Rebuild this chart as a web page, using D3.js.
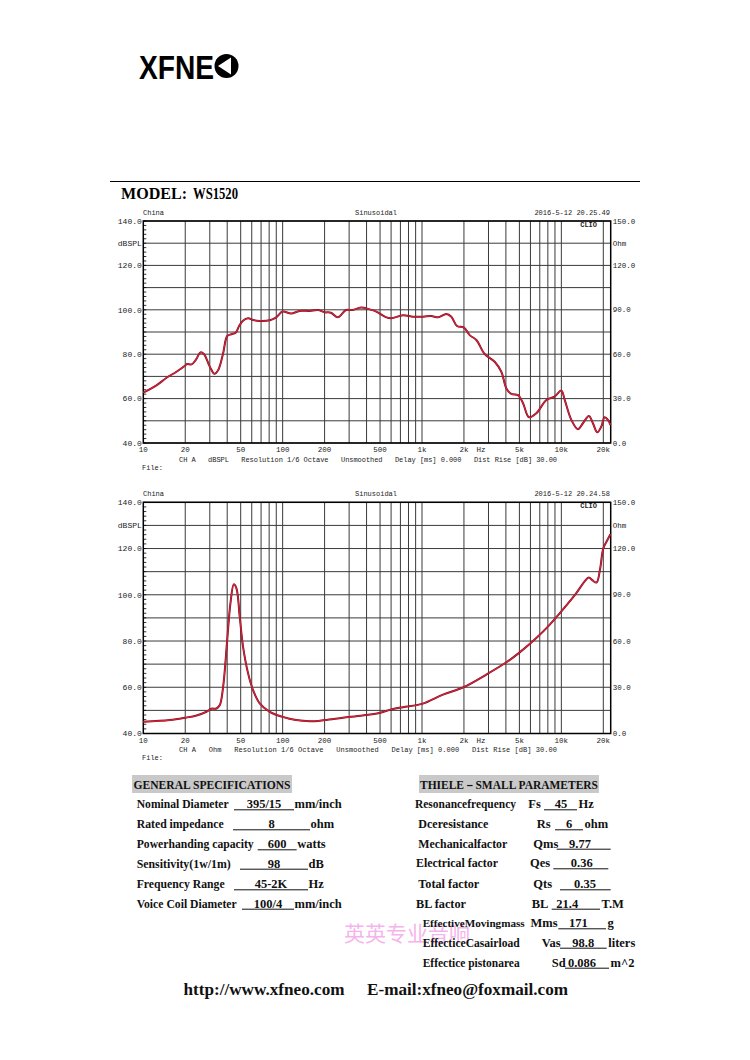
<!DOCTYPE html>
<html lang="en">
<head>
<meta charset="UTF-8">
<title>WS1520</title>
<script src="https://d3js.org/d3.v7.min.js"></script>
<style>
  html, body { margin: 0; padding: 0; background: #fff; }
  svg { display: block; }
</style>
</head>
<body>
<svg></svg>
<script>
// ---- data ----
const model = "WS1520";

const freqTicks = [10, 20, 50, 100, 200, 500, 1000, 2000, 5000, 10000, 20000];
const freqTickLabels = ["10", "20", "50", "100", "200", "500", "1k", "2k", "5k", "10k", "20k"];
const leftLabels = ["140.0", "dBSPL", "120.0", "", "100.0", "", "80.0", "", "60.0", "", "40.0"];
const rightLabels = ["150.0", "Ohm", "120.0", "", "90.0", "", "60.0", "", "30.0", "", "0.0"];

// SPL response (dBSPL)
const splFreq = [10, 12.5, 14.7, 17.3, 19.9, 20.6, 22.2, 23.8, 25.7, 27.2, 30, 32.4, 34.5, 37.4, 40, 42.8, 46, 48.7,
  51.9, 56.5, 61.3, 68.4, 80.8, 90, 100, 115, 132, 156, 179, 200, 222, 249, 285, 318, 365, 421, 470, 555, 602,
  730, 862, 1017, 1167, 1303, 1495, 1624, 1783, 2000, 2197, 2454, 2815, 3323, 3708, 4032, 4379, 4887, 5310,
  5862, 6614, 7812, 8947, 9998, 10570, 11800, 13150, 14280, 15770, 16850, 18100, 19350, 20450, 21600, 22500];
const splDb = [62.7, 66.1, 69.4, 72.1, 74.8, 75.6, 75.4, 77.4, 80.8, 80.1, 74.4, 71.2, 72.9, 80.4, 88.2, 89, 89.7, 92.7,
  95.1, 96.2, 95.4, 95.0, 95.3, 96.6, 99.2, 98.3, 99.5, 99.5, 99.9, 98.9, 98.7, 96.6, 99.9, 99.9, 101, 100.2, 99.2,
  96.6, 96.2, 97.5, 96.9, 96.9, 97.2, 96.6, 98.1, 96.9, 92.7, 92, 88.6, 86.4, 80.1, 76.6, 72.1, 64.6, 62.1, 61.6,
  57.9, 51.6, 53.4, 59.4, 60.9, 63.6, 59.4, 50.4, 46.2, 48.9, 52.2, 48.9, 44.8, 47.4, 51.6, 50.4, 48.1];

// impedance (plotted on the left scale)
const impFreq = [10, 15.5, 19.9, 24.1, 28.4, 30.8, 33.5, 35.4, 37.4, 40, 42.2, 44.6, 46.6, 49.2, 52, 56.5, 61.3, 68.4,
  80.8, 100, 125, 156, 200, 270, 375, 494, 602, 730, 1000, 1414, 2000, 2895, 4032, 5024, 6614, 8230, 9998,
  12800, 14690, 15730, 16750, 17890, 18920, 20010, 21400, 22500];
const impVal = [45.1, 45.8, 46.8, 47.8, 49.4, 50.7, 50.8, 52.3, 60.2, 80.4, 96.3, 104.5, 102.8, 90.5, 77.5, 66, 58.8, 53,
  49.4, 47.2, 45.8, 45.3, 45.8, 46.8, 47.8, 48.9, 50.4, 51.4, 52.8, 56.8, 60.1, 65.5, 70.8, 75.1, 81.3, 87, 92.8,
  100.7, 105.8, 107.5, 106.2, 105.3, 110.8, 120.1, 123.7, 126.2];

const genLabels = ["Nominal Diameter", "Rated impedance", "Powerhanding capacity", "Sensitivity(1w/1m)", "Frequency Range", "Voice Coil Diameter"];
const genValues = ["395/15", "8", "600", "98", "45-2K", "100/4"];
const genUnits = ["mm/inch", "ohm", "watts", "dB", "Hz", "mm/inch"];

const tsLabels = ["Resonancefrequency", "Dceresistance", "Mechanicalfactor", "Electrical factor", "Total factor", "BL factor",
  "EffectiveMovingmass", "EffecticeCasairload", "Effectice pistonarea"];
const tsSymbols = ["Fs", "Rs", "Qms", "Qes", "Qts", "BL", "Mms", "Vas", "Sd"];
const tsValues = ["45", "6", "9.77", "0.36", "0.35", "21.4", "171", "98.8", "0.086"];
const tsUnits = ["Hz", "ohm", "", "", "", "T.M", "g", "liters", "m^2"];

// ---- layout ----
const W = 750, H = 1060;
const svg = d3.select("svg").attr("width", W).attr("height", H);

const serif = "'Liberation Serif', 'DejaVu Serif', serif";
const mono = "'Liberation Mono', 'DejaVu Sans Mono', monospace";

// logo
const logo = svg.append("g");
logo.append("text")
  .attr("x", 139).attr("y", 78.5)
  .attr("font-family", "'Liberation Sans', Arial, sans-serif")
  .attr("font-weight", "bold").attr("font-size", 33)
  .attr("textLength", 75).attr("lengthAdjust", "spacingAndGlyphs")
  .text("XFNE");
logo.append("circle").attr("cx", 226.5).attr("cy", 66).attr("r", 12).attr("fill", "#000");
logo.append("path").attr("d", "M218,66 L231,57.5 L231,74.5 Z").attr("fill", "#fff");

// header rule and model
svg.append("line").attr("x1", 110).attr("x2", 640).attr("y1", 181.5).attr("y2", 181.5)
  .attr("stroke", "#000").attr("stroke-width", 1);
svg.append("text").attr("x", 121).attr("y", 199)
  .attr("font-family", serif).attr("font-weight", "bold").attr("font-size", 17)
  .attr("textLength", 66).attr("lengthAdjust", "spacingAndGlyphs")
  .text("MODEL:");
svg.append("text").attr("x", 193).attr("y", 199)
  .attr("font-family", serif).attr("font-weight", "bold").attr("font-size", 16)
  .attr("textLength", 45).attr("lengthAdjust", "spacingAndGlyphs")
  .text(model);

const x = d3.scaleLog().domain([10, 22600]).range([143.3, 610.7]);

// grid frequencies: every 1..9 step inside each decade
const gridFreqs = [];
[10, 100, 1000, 10000].forEach(dec => {
  for (let m = 1; m <= 9; m++) {
    const f = m * dec;
    if (f > 10 && f <= 20000) gridFreqs.push(f);
  }
});

function drawChart(top, bottom, freqs, vals, stamp, unit) {
  const g = svg.append("g");
  const y = d3.scaleLinear().domain([40, 140]).range([bottom, top]);
  const yLevels = d3.range(140, 39, -10);

  // grid
  g.selectAll(".vg").data(gridFreqs).enter().append("line")
    .attr("x1", d => x(d)).attr("x2", d => x(d))
    .attr("y1", top).attr("y2", bottom)
    .attr("stroke", "#3a3a3a").attr("stroke-width", 1);
  g.selectAll(".hg").data(yLevels).enter().append("line")
    .attr("x1", x.range()[0]).attr("x2", x.range()[1])
    .attr("y1", d => y(d)).attr("y2", d => y(d))
    .attr("stroke", "#3a3a3a").attr("stroke-width", 1);

  // minor ticks on left axis
  g.selectAll(".mt").data(d3.range(40, 141, 2)).enter().append("line")
    .attr("x1", x.range()[0]).attr("x2", x.range()[0] + 3)
    .attr("y1", d => y(d)).attr("y2", d => y(d))
    .attr("stroke", "#000").attr("stroke-width", 0.8);

  // frame
  g.append("rect")
    .attr("x", x.range()[0]).attr("y", top)
    .attr("width", x.range()[1] - x.range()[0]).attr("height", bottom - top)
    .attr("fill", "none").attr("stroke", "#000").attr("stroke-width", 1.5);

  const txt = (xx, yy, s, anchor, size, weight) => g.append("text")
    .attr("x", xx).attr("y", yy).attr("text-anchor", anchor || "start")
    .attr("font-family", mono).attr("font-size", size || 7)
    .attr("font-weight", weight || "normal").attr("fill", "#222").text(s);

  // left/right labels
  g.selectAll(".ll").data(yLevels).enter().append("text")
    .attr("x", x.range()[0] - 1.5).attr("y", d => y(d) + 2.8)
    .attr("text-anchor", "end").attr("font-family", mono).attr("font-size", 8).attr("fill", "#222")
    .text((d, i) => leftLabels[i]);
  g.selectAll(".rl").data(yLevels).enter().append("text")
    .attr("x", x.range()[1] + 2).attr("y", d => y(d) + 2.5)
    .attr("font-family", mono).attr("font-size", 7.5).attr("fill", "#222")
    .text((d, i) => rightLabels[i]);

  // header texts
  txt(143, top - 6, "China");
  txt(376, top - 6, "Sinusoidal", "middle");
  txt(610, top - 6, stamp, "end");
  txt(597, top + 6, "CLIO", "end", 7, "bold");

  // x tick labels
  g.selectAll(".xl").data(freqTicks).enter().append("text")
    .attr("x", d => x(d)).attr("y", bottom + 9)
    .attr("text-anchor", "middle").attr("font-family", mono).attr("font-size", 7.5).attr("fill", "#222")
    .text((d, i) => freqTickLabels[i]);
  txt(x(2650), bottom + 9, "Hz", "middle", 7.5);
  txt(179, bottom + 18.5,
    "CH A   " + unit + "   Resolution 1/6 Octave   Unsmoothed   Delay [ms] 0.000   Dist Rise [dB] 30.00")
    .style("white-space", "pre")
    .attr("textLength", 378).attr("lengthAdjust", "spacing");
  txt(142, bottom + 26.5, "File:");

  // curve
  const line = d3.line()
    .x((d, i) => x(freqs[i]))
    .y(d => y(d))
    .curve(d3.curveCatmullRom.alpha(0.5));
  g.append("path").datum(vals)
    .attr("d", line)
    .attr("fill", "none").attr("stroke", "#7a1020").attr("stroke-width", 2);
  g.append("path").datum(vals)
    .attr("d", line)
    .attr("fill", "none").attr("stroke", "#d8243c").attr("stroke-width", 1.1);
}

drawChart(221, 443, splFreq, splDb, "2016-5-12 20.25.49", "dBSPL");
drawChart(502.3, 733.5, impFreq, impVal, "2016-5-12 20.24.58", "Ohm");

// watermark (sits behind the parameter text, as in the source sheet)
svg.append("text").attr("x", 344).attr("y", 941)
  .attr("font-family", "'Noto Sans CJK SC', sans-serif").attr("font-size", 21)
  .attr("fill", "#f4a8e8").attr("opacity", 0.85)
  .attr("textLength", 126).attr("lengthAdjust", "spacing")
  .text("英英专业音响");

// spec tables
function specText(xx, yy, s, anchor) {
  return svg.append("text").attr("x", xx).attr("y", yy)
    .attr("text-anchor", anchor || "start")
    .attr("font-family", serif).attr("font-weight", "bold").attr("font-size", 12.5)
    .attr("fill", "#111").text(s);
}
// squeeze a label into a given width: shrink font if needed, then fix length
function fitText(sel, w) {
  const natural = sel.node().getComputedTextLength();
  if (natural > w) sel.attr("font-size", 12.5 * w / natural);
  sel.attr("textLength", w).attr("lengthAdjust", "spacingAndGlyphs");
  return sel;
}
function underline(x1, x2, yy) {
  svg.append("line").attr("x1", x1).attr("x2", x2).attr("y1", yy + 1.5).attr("y2", yy + 1.5)
    .attr("stroke", "#111").attr("stroke-width", 1);
}

// headers
svg.append("rect").attr("x", 132).attr("y", 775).attr("width", 160).attr("height", 18).attr("fill", "#c9c9c9");
specText(133.5, 789, "GENERAL SPECIFICATIONS").attr("font-size", 12)
  .attr("textLength", 157).attr("lengthAdjust", "spacingAndGlyphs");
svg.append("rect").attr("x", 419).attr("y", 775).attr("width", 180).attr("height", 18).attr("fill", "#c9c9c9");
specText(420, 789, "THIELE－SMALL PARAMETERS").attr("font-size", 12)
  .attr("textLength", 178).attr("lengthAdjust", "spacingAndGlyphs");

const genBase = [808.3, 828.3, 848.3, 867.7, 888.3, 907.7];
const genLine = [[234, 294], [233, 310], [257.7, 296.7], [240, 308], [234, 308], [242, 294]];
const genLabelW = [92, 87, 117, 94, 88, 100];
genLabels.forEach((s, i) => {
  fitText(specText(136.7, genBase[i], s), genLabelW[i]);
  const [a, b] = genLine[i];
  underline(a, b, genBase[i]);
  specText((a + b) / 2, genBase[i], genValues[i], "middle");
  specText(b + 0.5, genBase[i], genUnits[i]);
});

const tsBase = [808.3, 828.3, 847.7, 867.3, 888.3, 907.7, 927.3, 946.7, 966.7];
const tsLabelX = [415, 418.3, 418.3, 416, 418.3, 416, 422.7, 422.7, 422.7];
const tsLabelW = [101, 70, 89, 82, 61, 50, 102, 97, 97];
const tsSymX = [528.3, 536.7, 533.3, 530, 533.3, 531.7, 530.5, 541.7, 551.7];
const tsLine = [[544, 577], [555, 583], [556.7, 610.7], [553.3, 608.3], [560, 610.7], [551.7, 600], [558.3, 606], [560, 606.7], [565, 609]];
const tsValX = [561, 569, 580, 581.7, 585, 567.3, 578.3, 583.3, 582];
tsLabels.forEach((s, i) => {
  fitText(specText(tsLabelX[i], tsBase[i], s), tsLabelW[i]);
  specText(tsSymX[i], tsBase[i], tsSymbols[i]);
  const [a, b] = tsLine[i];
  underline(a, b, tsBase[i]);
  specText(tsValX[i], tsBase[i], tsValues[i], "middle");
  if (tsUnits[i]) specText(b + 1.5, tsBase[i], tsUnits[i]);
});

// footer
specText(183.5, 995, "http://www.xfneo.com").attr("font-size", 16.5)
  .attr("textLength", 161).attr("lengthAdjust", "spacingAndGlyphs");
specText(367, 995, "E-mail:xfneo@foxmail.com").attr("font-size", 16.5)
  .attr("textLength", 201).attr("lengthAdjust", "spacingAndGlyphs");
</script>
</body>
</html>
